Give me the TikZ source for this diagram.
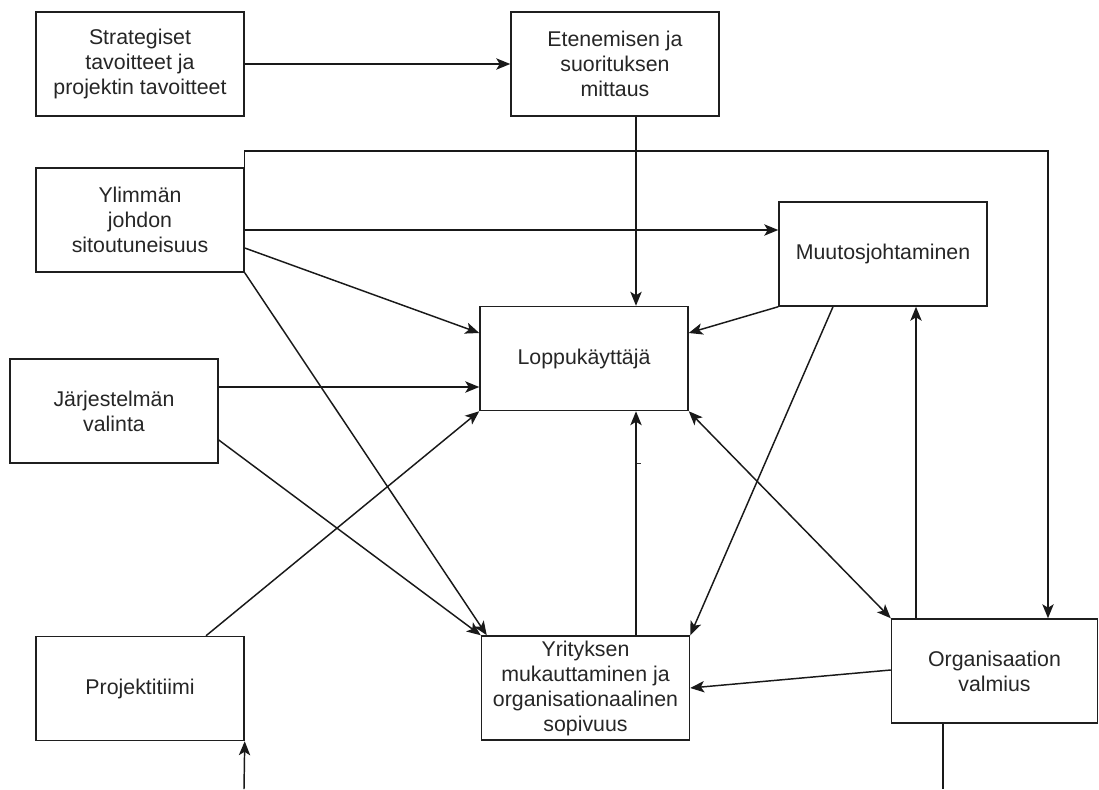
\documentclass[tikz,border=0pt]{standalone}
\usepackage{fontspec}
\setmainfont{Liberation Sans}
\usetikzlibrary{arrows.meta,calc}
\begin{document}
\begin{tikzpicture}[x=0.75pt,y=-0.75pt,
  >={Stealth[length=10.5pt,width=8.5pt,inset=2.6pt]},
  box/.style={draw=black!88, line width=1.1pt, fill=white, minimum width=156pt,
    minimum height=78pt, align=center, inner sep=0pt,
    font=\fontsize{16}{18.75}\selectfont, text=black!85},
  conn/.style={draw=black!90, line width=1.1pt}]
\useasboundingbox (0,0) rectangle (1099,789);
\fill[white] (0,0) rectangle (1099,789);

% boxes
\node[box] (S) at (140,64) {Strategiset\\tavoitteet ja\\projektin tavoitteet};
\node[box] (E) at (615,64) {Etenemisen ja\\suorituksen\\mittaus};
\node[box] (Y) at (140,220) {Ylimmän\\johdon\\sitoutuneisuus};
\node[box] (M) at (883,254) {Muutosjohtaminen};
\node[box] (L) at (584,358.5) {Loppukäyttäjä};
\node[box] (J) at (114,411) {Järjestelmän\\valinta};
\node[box] (P) at (140,688.5) {Projektitiimi};
\node[box] (R) at (585.5,688) {Yrityksen\\mukauttaminen ja\\organisationaalinen\\sopivuus};
\node[box, minimum width=154.5pt] (O) at (994.5,671) {Organisaation\\valmius};

% helper coordinates
\coordinate (h151) at (0,151);
\coordinate (h230) at (0,230);
\coordinate (h248) at (0,248);
\coordinate (h333) at (0,333);
\coordinate (h387) at (0,387);
\coordinate (h440) at (0,440);
\coordinate (h670) at (0,670);
\coordinate (h688) at (0,688);
\coordinate (bot) at (0,789);
\coordinate (v244) at (244,0);
\coordinate (v636) at (636,0);
\coordinate (v833) at (833,0);
\coordinate (v916) at (916,0);
\coordinate (v943) at (943,0);
\coordinate (v1048) at (1048,0);

% connectors
\draw[conn,->] (S.east) -- (E.west);
\draw[conn,->] (E.south -| v636) -- (L.north -| v636);
\draw[conn,->] (Y.east |- h230) -- (M.west |- h230);
\draw[conn,->] (Y.east |- h230) -- (Y.east |- h151) -- (v1048 |- h151) -- (O.north -| v1048);
\draw[conn,->] (Y.east |- h248) -- (L.west |- h333);
\draw[conn,->] (Y.south east) -- ($(R.north west)+(6,0)$);
\draw[conn,->] (J.east |- h387) -- (L.west |- h387);
\draw[conn,->] (J.east |- h440) -- (R.north west);
\draw[conn,->] ($(P.north)+(66,0)$) -- (L.south west);
\draw[conn,->] (R.north -| v636) -- (L.south -| v636);
\draw[conn,->] (M.south west) -- (L.east |- h333);
\draw[conn,->] (M.south -| v833) -- (R.north east);
\draw[conn,->] (O.north -| v916) -- (M.south -| v916);
\draw[conn,<->] (L.south east) -- (O.north west);
\draw[conn,->] (O.west |- h670) -- (R.east |- h688);
\draw[conn] (O.south -| v943) -- (v943 |- bot);
\draw[conn,->] (v244 |- bot) -- (P.south east);
\draw[draw=black!80, line width=0.5pt] (637,463) -- (641,463);
\end{tikzpicture}
\end{document}
